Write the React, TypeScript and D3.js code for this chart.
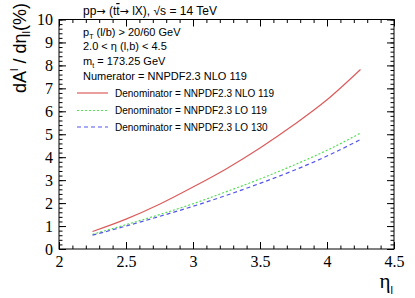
import * as React from 'react';
import * as d3 from 'd3';

// eta_l sample points and the three ratio curves (in %)
const etaPoints = [2.25, 2.5, 2.75, 3.0, 3.25, 3.5, 3.75, 4.0, 4.25];
const nlo119Values = [0.76, 1.3, 1.95, 2.7, 3.5, 4.4, 5.4, 6.5, 7.82];
const lo119Values = [0.64, 1.06, 1.5, 1.97, 2.5, 3.05, 3.65, 4.3, 5.05];
const lo130Values = [0.6, 1.0, 1.42, 1.86, 2.34, 2.86, 3.42, 4.05, 4.77];

const seriesNames = [
  'Denominator = NNPDF2.3 NLO 119',
  'Denominator = NNPDF2.3 LO 119',
  'Denominator = NNPDF2.3 LO 130',
];
const seriesColors = ['#dc5c5c', '#55dd55', '#5555ee'];
const seriesDash = ['none', '2,2', '4,3'];

const xTicks = [2, 2.5, 3, 3.5, 4, 4.5];
const yTicks = [0, 1, 2, 3, 4, 5, 6, 7, 8, 9, 10];

const width = 415;
const height = 298;
const left = 59;
const right = 394;
const top = 19.5;
const bottom = 249;

const sans = "'Liberation Sans', Arial, Helvetica, sans-serif";
const serif = "'Liberation Serif', 'Times New Roman', serif";
const arrowFont = "'DejaVu Sans', sans-serif";

const drawChart = (node: SVGSVGElement) => {
  const svg = d3.select(node);
  svg.selectAll('*').remove();

  const x = d3.scaleLinear().domain([2, 4.5]).range([left, right]);
  const y = d3.scaleLinear().domain([0, 10]).range([bottom, top]);

  const xMinor = d3.range(0, 26).map(i => 2 + i / 10);
  const yMinor = d3.range(0, 51).map(i => i / 5);

  // frame
  svg.append('rect')
    .attr('x', left).attr('y', top)
    .attr('width', right - left).attr('height', bottom - top)
    .attr('fill', 'none').attr('stroke', '#000').attr('stroke-width', 1);

  const styleAxis = (g) => {
    g.select('.domain').remove();
    g.attr('font-family', null).attr('font-size', null);
    g.selectAll('line').attr('stroke', '#000');
    g.selectAll('text')
      .attr('fill', '#000')
      .style('font-family', serif)
      .style('font-size', '16px');
  };

  // bottom axis
  svg.append('g')
    .attr('transform', `translate(0,${bottom})`)
    .call(d3.axisBottom(x).tickValues(xTicks).tickSize(-7).tickSizeOuter(0)
      .tickPadding(7).tickFormat(d3.format('')))
    .call(styleAxis);
  svg.append('g')
    .attr('transform', `translate(0,${bottom})`)
    .call(d3.axisBottom(x).tickValues(xMinor).tickSize(-3.5).tickSizeOuter(0).tickFormat(() => ''))
    .call(styleAxis);

  // top axis
  svg.append('g')
    .attr('transform', `translate(0,${top})`)
    .call(d3.axisTop(x).tickValues(xTicks).tickSize(-7).tickSizeOuter(0).tickFormat(() => ''))
    .call(styleAxis);
  svg.append('g')
    .attr('transform', `translate(0,${top})`)
    .call(d3.axisTop(x).tickValues(xMinor).tickSize(-3.5).tickSizeOuter(0).tickFormat(() => ''))
    .call(styleAxis);

  // left axis
  svg.append('g')
    .attr('transform', `translate(${left},0)`)
    .call(d3.axisLeft(y).tickValues(yTicks).tickSize(-7).tickSizeOuter(0)
      .tickPadding(6).tickFormat(d3.format('')))
    .call(styleAxis);
  svg.append('g')
    .attr('transform', `translate(${left},0)`)
    .call(d3.axisLeft(y).tickValues(yMinor).tickSize(-3.5).tickSizeOuter(0).tickFormat(() => ''))
    .call(styleAxis);

  // right axis
  svg.append('g')
    .attr('transform', `translate(${right},0)`)
    .call(d3.axisRight(y).tickValues(yTicks).tickSize(-7).tickSizeOuter(0).tickFormat(() => ''))
    .call(styleAxis);
  svg.append('g')
    .attr('transform', `translate(${right},0)`)
    .call(d3.axisRight(y).tickValues(yMinor).tickSize(-3.5).tickSizeOuter(0).tickFormat(() => ''))
    .call(styleAxis);

  // curves
  const line = d3.line<number>()
    .x((d, i) => x(etaPoints[i]))
    .y(d => y(d))
    .curve(d3.curveMonotoneX);

  [nlo119Values, lo119Values, lo130Values].forEach((vals, i) => {
    svg.append('path')
      .datum(vals)
      .attr('d', line)
      .attr('fill', 'none')
      .attr('stroke', seriesColors[i])
      .attr('stroke-width', 1.2)
      .attr('stroke-dasharray', seriesDash[i]);
  });

  // title and info text
  const info = svg.append('g').style('font-family', sans).attr('fill', '#000');
  const title = info.append('text').attr('x', 83).attr('y', 15).style('font-size', '12px');
  title.append('tspan').text('pp');
  title.append('tspan').style('font-family', arrowFont).style('font-size', '11px').text('\u2192');
  title.append('tspan').text(' (t');
  title.append('tspan').style('text-decoration', 'overline').text('t');
  title.append('tspan').style('font-family', arrowFont).style('font-size', '11px').text('\u2192');
  title.append('tspan').text(' lX), \u221As = 14 TeV');

  const pt = info.append('text').attr('x', 83).attr('y', 35.5).style('font-size', '11px');
  pt.append('tspan').text('p');
  pt.append('tspan').style('font-size', '7px').attr('dy', 3).text('T');
  pt.append('tspan').attr('dy', -3).text(' (l/b) > 20/60 GeV');

  info.append('text').attr('x', 83).attr('y', 50).style('font-size', '11px')
    .text('2.0 < \u03B7 (l,b) < 4.5');

  const mt = info.append('text').attr('x', 83).attr('y', 65).style('font-size', '11px');
  mt.append('tspan').text('m');
  mt.append('tspan').style('font-size', '7px').attr('dy', 3).text('t');
  mt.append('tspan').attr('dy', -3).text(' = 173.25 GeV');

  info.append('text').attr('x', 83).attr('y', 80).style('font-size', '11px')
    .text('Numerator = NNPDF2.3 NLO 119');

  // legend
  const legendY = [93, 110.5, 127];
  seriesNames.forEach((name, i) => {
    svg.append('line')
      .attr('x1', 77).attr('x2', 108)
      .attr('y1', legendY[i]).attr('y2', legendY[i])
      .attr('stroke', seriesColors[i]).attr('stroke-width', 1.2)
      .attr('stroke-dasharray', seriesDash[i]);
    svg.append('text')
      .attr('x', 115).attr('y', legendY[i] + 3.7)
      .style('font-family', sans).style('font-size', '10px')
      .text(name);
  });

  // y axis title
  const yt = svg.append('text')
    .attr('transform', 'translate(26,3) rotate(-90)')
    .attr('text-anchor', 'end')
    .style('font-family', sans).style('font-size', '18px');
  yt.append('tspan').text('dA');
  yt.append('tspan').style('font-size', '11px').attr('dy', -8).text('l');
  yt.append('tspan').attr('dy', 8).text(' / d\u03B7');
  yt.append('tspan').style('font-size', '11px').attr('dy', 4).text('l');
  yt.append('tspan').attr('dy', -4).text('(%)');

  // x axis title
  const xt = svg.append('text')
    .attr('x', 393).attr('y', 288)
    .attr('text-anchor', 'end')
    .style('font-family', serif).style('font-size', '21px');
  xt.append('tspan').text('\u03B7');
  xt.append('tspan').style('font-family', sans).style('font-size', '11px').attr('dy', 6).text('l');
};

const App = () => {
  const ref = React.useRef<SVGSVGElement>(null);
  React.useEffect(() => {
    if (ref.current) drawChart(ref.current);
  }, []);
  return (
    <svg
      ref={ref}
      width={width}
      height={height}
      style={{ position: 'absolute', left: 0, top: 0, background: '#fff' }}
    />
  );
};

export default App;
